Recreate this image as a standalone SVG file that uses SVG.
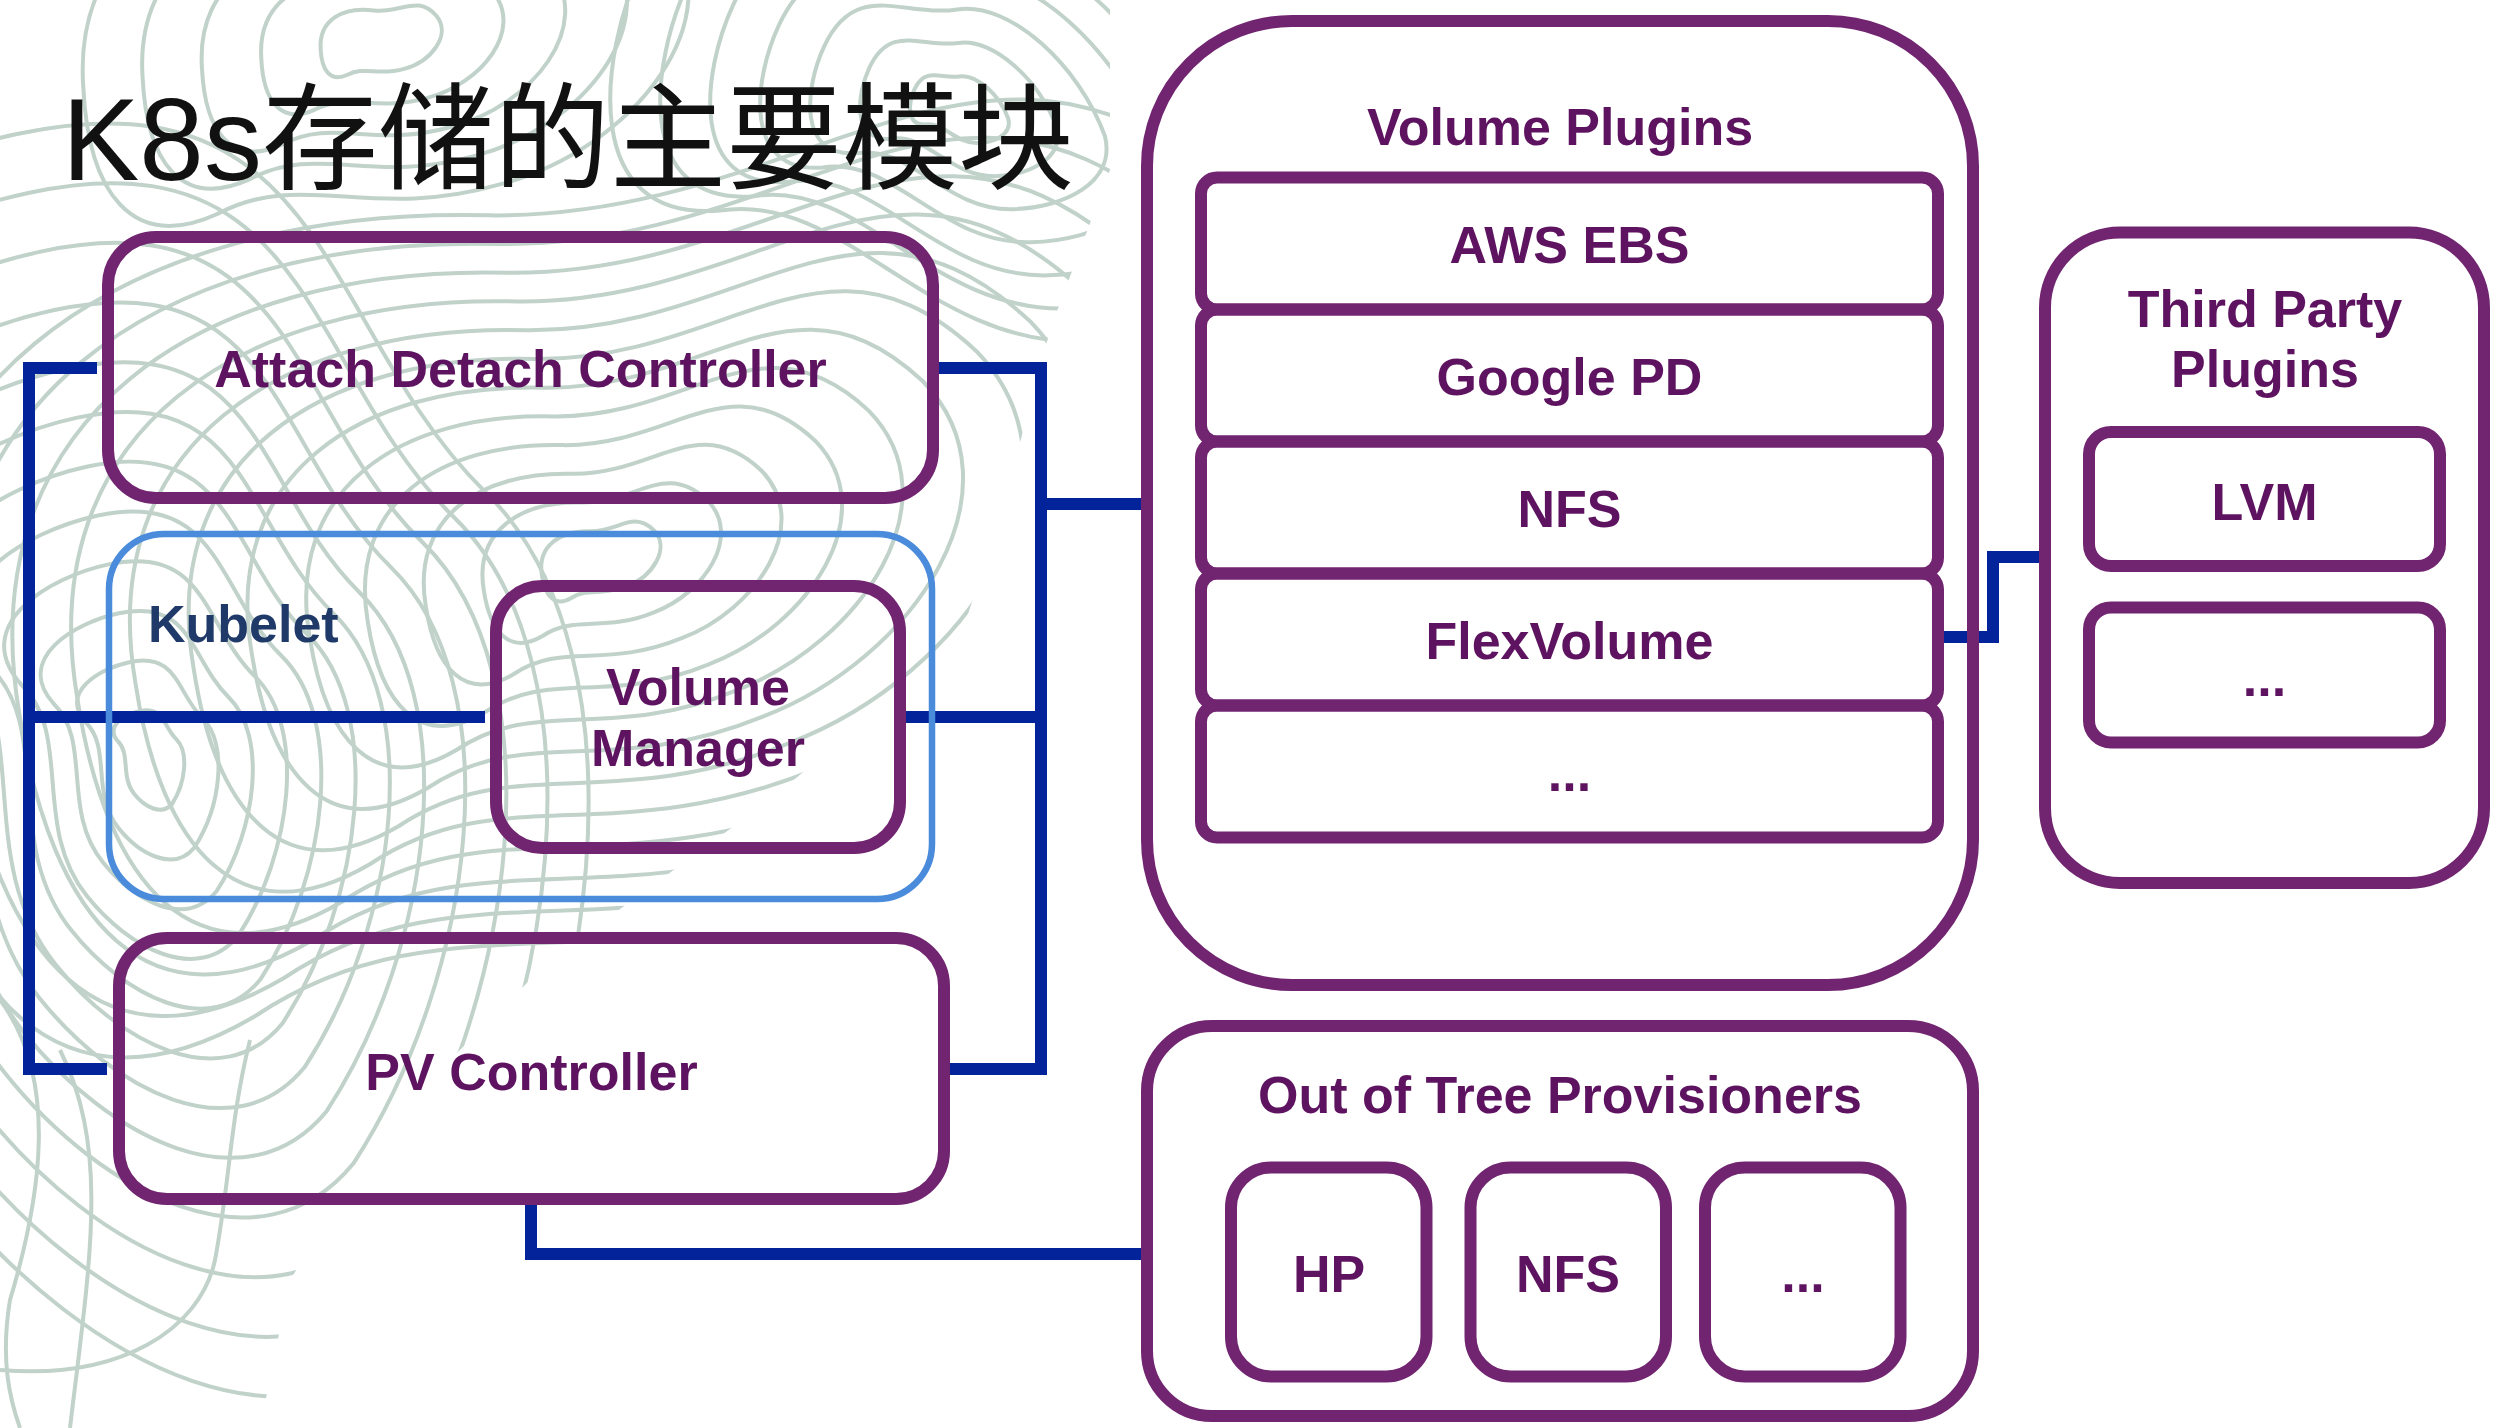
<svg xmlns="http://www.w3.org/2000/svg" xmlns:xlink="http://www.w3.org/1999/xlink" width="2506" height="1428" viewBox="0 0 2506 1428">
<style>
.topo{fill:none;stroke:#c0d2ca;stroke-width:4}
.box{fill:none;stroke:#712570;stroke-width:12}
.kube{fill:none;stroke:#4a8bdb;stroke-width:6.5}
.conn{fill:none;stroke:#03239b;stroke-width:12;stroke-linejoin:miter;stroke-linecap:butt}
.lbl{font-family:"Liberation Sans",Arial,sans-serif;font-weight:bold;font-size:52px;fill:#5e1360;text-anchor:middle}
.title{font-family:"Liberation Sans","Noto Sans CJK SC",sans-serif;font-size:116px;fill:#111111}
</style>
<defs>
<path id="blob" class="topo" vector-effect="non-scaling-stroke" d="M-100,5 C-98,-45 -55,-62 -5,-50 C40,-40 70,-70 98,-30 C120,5 80,45 35,52 C-10,60 -30,40 -60,52 C-90,62 -102,40 -100,5 Z"/>
<path id="blob2" class="topo" vector-effect="non-scaling-stroke" d="M-100,0 C-100,-50 -60,-40 -30,-60 C0,-80 60,-60 95,-25 C115,0 90,30 60,45 C20,65 -20,35 -50,55 C-85,75 -100,30 -100,0 Z"/>
<clipPath id="topoClip"><path d="M0,0 H1110 L1110,170 L1050,330 L1010,480 L960,640 L770,800 L550,960 L390,1120 L290,1280 L260,1428 H0 Z"/></clipPath>
</defs>
<rect width="2506" height="1428" fill="#ffffff"/>
<g id="background" clip-path="url(#topoClip)">
<g transform="translate(600,560) rotate(-12)">
<use href="#blob" transform="scale(0.6)"/><use href="#blob" transform="scale(1.2)"/><use href="#blob" transform="scale(1.8)"/><use href="#blob" transform="scale(2.4)"/><use href="#blob" transform="scale(3.0)"/><use href="#blob" transform="scale(3.6)"/><use href="#blob" transform="scale(4.2)"/><use href="#blob" transform="scale(4.8)"/><use href="#blob" transform="scale(5.4)"/><use href="#blob" transform="scale(6.0)"/><use href="#blob" transform="scale(6.6)"/><use href="#blob" transform="scale(7.2)"/>
</g>
<g transform="translate(150,760) rotate(78)">
<use href="#blob2" transform="scale(0.5)"/><use href="#blob2" transform="scale(1.0)"/><use href="#blob2" transform="scale(1.5)"/><use href="#blob2" transform="scale(2.0)"/><use href="#blob2" transform="scale(2.5)"/><use href="#blob2" transform="scale(3.0)"/><use href="#blob2" transform="scale(3.5)"/><use href="#blob2" transform="scale(4.0)"/><use href="#blob2" transform="scale(4.6)"/><use href="#blob2" transform="scale(5.2)"/><use href="#blob2" transform="scale(5.8)"/><use href="#blob2" transform="scale(6.4)"/>
</g>
<g transform="translate(960,110) rotate(25)">
<use href="#blob2" transform="scale(0.5)"/><use href="#blob2" transform="scale(1.0)"/><use href="#blob2" transform="scale(1.5)"/><use href="#blob2" transform="scale(2.0)"/><use href="#blob2" transform="scale(2.5)"/><use href="#blob2" transform="scale(3.0)"/><use href="#blob2" transform="scale(3.5)"/>
</g>
<g transform="translate(380,40) rotate(-6)">
<use href="#blob" transform="scale(0.6)"/><use href="#blob" transform="scale(1.2)"/><use href="#blob" transform="scale(1.8)"/><use href="#blob" transform="scale(2.4)"/><use href="#blob" transform="scale(3.0)"/>
</g>
<path class="topo" d="M0,1000 C60,1080 40,1200 10,1300 C0,1360 10,1400 20,1428"/>
<path class="topo" d="M60,1050 C110,1150 90,1260 70,1428"/>
<path class="topo" d="M0,1370 C120,1380 200,1330 215,1260 C230,1180 230,1120 250,1040"/>
</g>
<g id="connectors">
<path class="conn" d="M97,368 H29 V1069 H107"/>
<path class="conn" d="M29,717 H485"/>
<path class="conn" d="M935,368 H1041 V1069 H947"/>
<path class="conn" d="M901,717 H1041"/>
<path class="conn" d="M1041,504 H1146"/>
<path class="conn" d="M531,1199 V1254 H1143"/>
<path class="conn" d="M1938,637 H1993 V557 H2045"/>
</g>
<g id="title"><text class="title" x="62" y="180">K8s存储的主要模块</text></g>
<g id="attach-detach-controller">
<rect class="box" x="108" y="237" width="825" height="261" rx="48"/>
<text class="lbl" x="520.5" y="387">Attach Detach Controller</text>
</g>
<g id="kubelet">
<rect class="kube" x="109" y="534" width="823" height="365" rx="55"/>
<text class="lbl" x="148" y="642" style="text-anchor:start;fill:#1f3a68">Kubelet</text>
</g>
<g id="volume-manager">
<rect class="box" x="496" y="586" width="404" height="262" rx="46"/>
<text class="lbl" x="698" y="705">Volume</text>
<text class="lbl" x="698" y="766">Manager</text>
</g>
<g id="pv-controller">
<rect class="box" x="119" y="938" width="825" height="261" rx="48"/>
<text class="lbl" x="531.5" y="1090">PV Controller</text>
</g>
<g id="volume-plugins">
<rect class="box" x="1147" y="21" width="826" height="964" rx="145"/>
<text class="lbl" x="1560" y="145">Volume Plugins</text>
</g>
<g id="aws-ebs">
<rect class="box" x="1201" y="177.5" width="737" height="132" rx="16"/>
<text class="lbl" x="1569.5" y="263">AWS EBS</text>
</g>
<g id="google-pd">
<rect class="box" x="1201" y="309.5" width="737" height="132" rx="16"/>
<text class="lbl" x="1569.5" y="395">Google PD</text>
</g>
<g id="nfs-plugin">
<rect class="box" x="1201" y="441.5" width="737" height="132" rx="16"/>
<text class="lbl" x="1569.5" y="527">NFS</text>
</g>
<g id="flexvolume">
<rect class="box" x="1201" y="573.5" width="737" height="132" rx="16"/>
<text class="lbl" x="1569.5" y="659">FlexVolume</text>
</g>
<g id="more-plugins">
<rect class="box" x="1201" y="705.5" width="737" height="132" rx="16"/>
<text class="lbl" x="1569.5" y="791">...</text>
</g>
<g id="third-party-plugins">
<rect class="box" x="2045" y="232.5" width="439" height="650.5" rx="75"/>
<text class="lbl" x="2265" y="327">Third Party</text>
<text class="lbl" x="2265" y="387">Plugins</text>
</g>
<g id="lvm">
<rect class="box" x="2089" y="432" width="351" height="134" rx="22"/>
<text class="lbl" x="2264.5" y="520">LVM</text>
</g>
<g id="more-third-party">
<rect class="box" x="2089" y="607.5" width="351" height="135" rx="22"/>
<text class="lbl" x="2264.5" y="696">...</text>
</g>
<g id="out-of-tree-provisioners">
<rect class="box" x="1147" y="1026" width="826" height="390" rx="65"/>
<text class="lbl" x="1560" y="1113">Out of Tree Provisioners</text>
</g>
<g id="hp">
<rect class="box" x="1231" y="1167.5" width="195.5" height="209" rx="40"/>
<text class="lbl" x="1329" y="1292">HP</text>
</g>
<g id="nfs-provisioner">
<rect class="box" x="1470.5" y="1167.5" width="195.5" height="209" rx="40"/>
<text class="lbl" x="1568" y="1292">NFS</text>
</g>
<g id="more-provisioners">
<rect class="box" x="1705" y="1167.5" width="195.5" height="209" rx="40"/>
<text class="lbl" x="1803" y="1292">...</text>
</g>
</svg>
